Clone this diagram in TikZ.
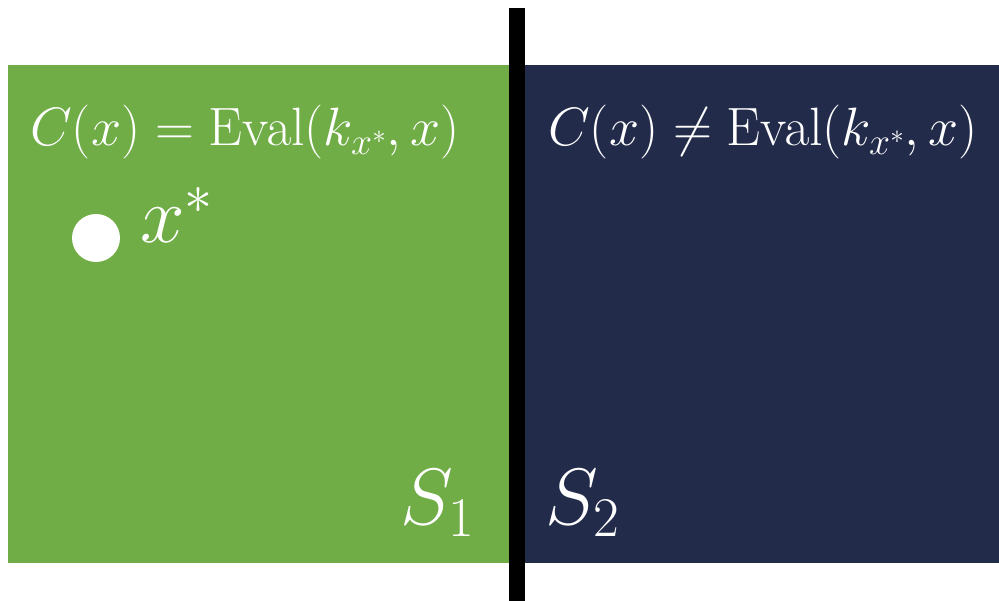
\RequirePackage{fix-cm}
\documentclass[tikz,border=0pt]{standalone}
\usepackage{amsmath, amssymb}
\usepackage{tikz}
\usetikzlibrary{positioning}
\definecolor{RegionGreen}{RGB}{112,173,71}
\definecolor{RegionNavy}{RGB}{35,43,75}
\tikzset{
  label text/.style={text=white, inner sep=0pt, anchor=base west, font=\fontsize{54}{60}\selectfont},
  big text/.style={text=white, inner sep=0pt, anchor=base west, font=\fontsize{80}{90}\selectfont}
}

\begin{document}
\begin{tikzpicture}[x=1pt, y=-1pt]
  \useasboundingbox (0,0) rectangle (999,601);
  \fill[RegionGreen] (8,65) rectangle (517,563);
  \fill[RegionNavy] (517,65) rectangle (999,563);
  \fill[black] (509,8) rectangle (525,601);
  % region labels
  \node[label text] (eqn) at (30,146) {$C(x) = \mathrm{Eval}(k_{x^*}, x)$};
  \node[label text] (neq) at (548,146) {$C(x) \neq \mathrm{Eval}(k_{x^*}, x)$};
  % the point
  \fill[white] (96,238) circle (24);
  \node[big text] (xstar) at (140,243) {$x^*$};
  \node[big text] (sone) at (400,524) {$S_1$};
  \node[big text] (stwo) at (545,524) {$S_2$};
\end{tikzpicture}
\end{document}
